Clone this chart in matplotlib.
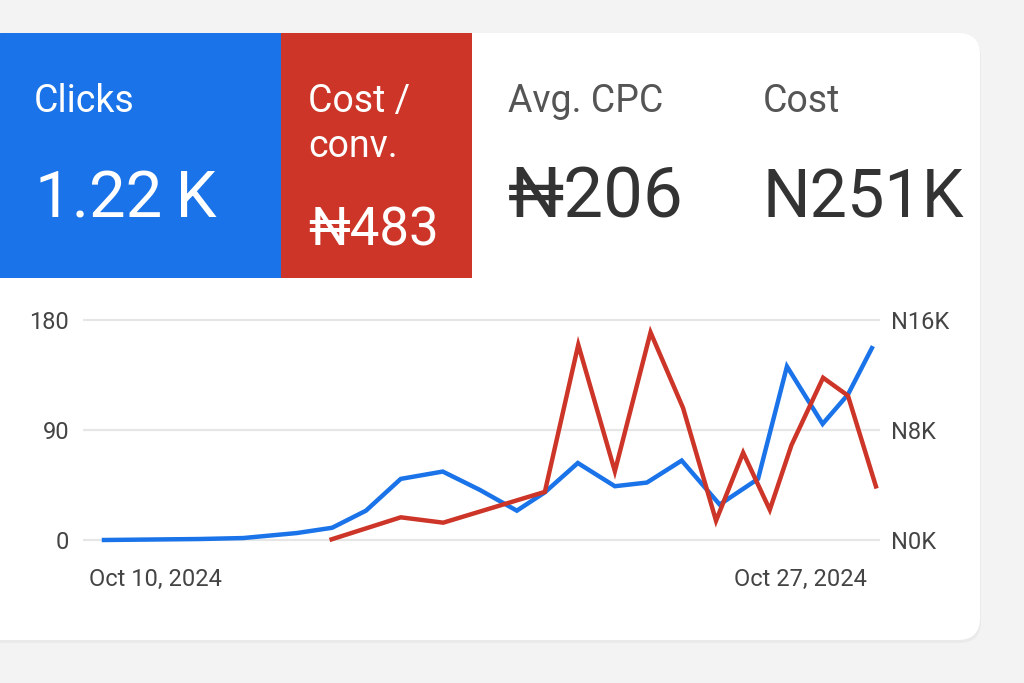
import matplotlib
matplotlib.use("Agg")
import matplotlib.pyplot as plt
import matplotlib.transforms as mtransforms
from matplotlib.patches import FancyBboxPatch, Rectangle

plt.rcParams['font.family'] = ['Roboto', 'DejaVu Sans']

# Scorecards
card_labels = [['Clicks'], ['Cost /', 'conv.'], ['Avg. CPC'], ['Cost']]
card_values = ['1.22\u2009K', '\u20a6483', '\u20a6206', 'N251K']

# Daily series (day 0 = Oct 10, 2024)
click_days = [0, 2.1, 3.08, 4.27, 5.05, 5.8, 6.57, 7.5, 8.32, 9.14, 9.76, 10.49,
              11.31, 12.02, 12.79, 13.63, 14.48, 15.12, 15.91, 16.47, 17.0]
clicks = [0, 0.8, 1.6, 5.7, 10, 24, 50, 56, 41, 24, 39, 63,
          44, 47, 65, 29, 50, 142, 95, 119, 157]
cost_days = [5.04, 6.57, 7.51, 9.76, 10.5, 11.31, 12.1, 12.82, 13.55, 14.15,
             14.74, 15.22, 15.92, 16.47, 17.09]
cost = [50, 1650, 1260, 3500, 14200, 5000, 15100, 9600, 1400, 6350,
        2200, 6900, 11800, 10500, 3900]

left_ticks = [0, 90, 180]
right_ticks = [0, 8000, 16000]
right_labels = ['N0K', 'N8K', 'N16K']
date_ticks = [0, 17]
date_labels = ['Oct 10, 2024', 'Oct 27, 2024']

blue = '#1a73e8'
red = '#cc3527'

fig = plt.figure(figsize=(10.24, 6.83), dpi=100)
fig.patch.set_facecolor('#f3f3f3')

# background layer in pixel coordinates
bg = fig.add_axes([0, 0, 1, 1])
bg.set_xlim(0, 1024)
bg.set_ylim(683, 0)
bg.axis('off')

shadow = FancyBboxPatch((-20, 36), 1001, 607, boxstyle='round,pad=0,rounding_size=22',
                        facecolor='#e4e4e4', edgecolor='none', alpha=0.6)
bg.add_patch(shadow)
card = FancyBboxPatch((-20, 33), 1000, 607, boxstyle='round,pad=0,rounding_size=22',
                      facecolor='white', edgecolor='none')
bg.add_patch(card)

tile_blue = Rectangle((-20, 33), 301, 245, facecolor=blue, edgecolor='none')
tile_red = Rectangle((281, 33), 191, 245, facecolor=red, edgecolor='none')
for t in (tile_blue, tile_red):
    bg.add_patch(t)
    t.set_clip_path(card)

label_x = [34, 308, 508, 763]
value_pos = [(35, 218), (308, 245), (508, 217), (763, 217)]
label_colors = ['white', 'white', '#555555', '#555555']
value_colors = ['white', 'white', '#333333', '#333333']
value_sizes = [47, 38, 51, 48]
for i in range(4):
    for j, line in enumerate(card_labels[i]):
        bg.text(label_x[i], 112 + 45 * j, line, color=label_colors[i],
                fontsize=27, va='baseline', ha='left')
    bg.text(value_pos[i][0], value_pos[i][1], card_values[i], color=value_colors[i],
            fontsize=value_sizes[i], va='baseline', ha='left')

# the chart
ax = fig.add_axes([83 / 1024, (683 - 555) / 683, (880 - 83) / 1024, 250 / 683])
ax.patch.set_alpha(0)
ylo, yhi = -12.27, 192.27
ax.set_xlim(-0.465, 17.18)
ax.set_ylim(ylo, yhi)
ax2 = ax.twinx()
ax2.set_ylim(ylo * 16000 / 180, yhi * 16000 / 180)

for a in (ax, ax2):
    for s in a.spines.values():
        s.set_visible(False)

for v in left_ticks:
    ax.axhline(v, color='#e6e6e6', lw=1.6, zorder=0)

ax.plot(click_days, clicks, color=blue, lw=3.2, solid_joinstyle='miter', zorder=3)
ax2.plot(cost_days, cost, color=red, lw=3.2, solid_joinstyle='miter', zorder=3)

ax.set_yticks(left_ticks)
ax.set_yticklabels([str(v) for v in left_ticks])
ax.tick_params(axis='y', length=0, pad=10, labelsize=17, labelcolor='#444444')
ax2.set_yticks(right_ticks)
ax2.set_yticklabels(right_labels)
ax2.tick_params(axis='y', length=0, pad=8, labelsize=17, labelcolor='#444444')

ax.set_xticks(date_ticks)
ax.set_xticklabels(date_labels)
ax.tick_params(axis='x', length=0, pad=9, labelsize=17, labelcolor='#444444')
xl = ax.get_xticklabels()
xl[0].set_ha('left')
xl[0].set_transform(xl[0].get_transform() + mtransforms.ScaledTranslation(-0.15, 0, fig.dpi_scale_trans))
xl[1].set_ha('right')
xl[1].set_transform(xl[1].get_transform() + mtransforms.ScaledTranslation(-0.05, 0, fig.dpi_scale_trans))

fig.savefig('out.png', dpi=100, facecolor=fig.get_facecolor())
